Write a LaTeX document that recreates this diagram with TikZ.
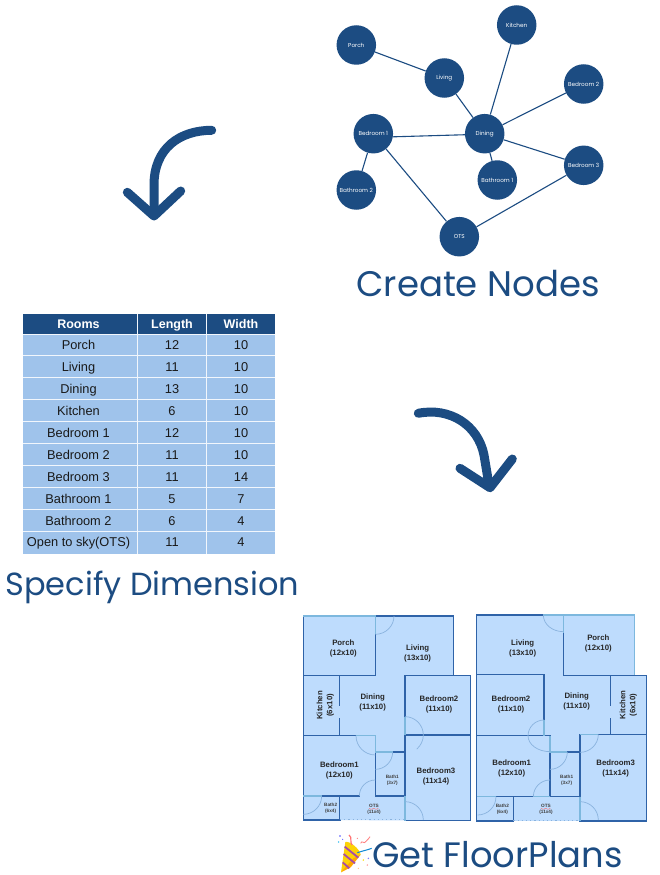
\documentclass[tikz,border=0pt]{standalone}
\usepackage{fontspec}
\setmainfont{Liberation Sans}
\newfontfamily\pop{Poppins}
\definecolor{navy}{HTML}{1C4C82}
\definecolor{rowblue}{HTML}{9FC3EB}
\definecolor{planfill}{HTML}{BEDCFD}
\definecolor{wall}{HTML}{2F63A8}
\definecolor{lwall}{HTML}{7DB8DE}
\definecolor{doorarc}{HTML}{8AB3DE}
\tikzset{
  gnode/.style={circle,fill=navy,draw=none,minimum size=39.5pt,inner sep=0pt,text=white,font=\pop\fontsize{5.7}{6}\selectfont},
  gedge/.style={draw=navy,line width=1.1pt},
  hdr/.style={font=\bfseries\fontsize{12.5}{14}\selectfont,text=white,inner sep=0pt,anchor=base},
  cell/.style={font=\fontsize{12.8}{14}\selectfont,text=black!90,inner sep=0pt,anchor=base},
  title/.style={font=\pop\fontsize{#1}{36}\selectfont,text=navy,inner sep=0pt,anchor=base},
  bigarrow/.style={draw=navy,line width=9pt,line cap=round,line join=round},
  wl/.style={draw=wall,line width=1.5pt,line cap=rect},
  lw/.style={draw=lwall,line width=1.5pt},
  door/.style={draw=doorarc,line width=.7pt},
  big/.style={font=\bfseries\fontsize{7.8}{10}\selectfont,align=center,text=black!85,inner sep=0pt},
  small/.style={font=\bfseries\fontsize{4.7}{6}\selectfont,align=center,text=black!75,inner sep=0pt},
  dots/.style={draw=doorarc,line width=1pt,dash pattern=on 1.2pt off 3pt}
}
\begin{document}
\begin{tikzpicture}[x=1pt,y=-1pt]
\useasboundingbox (0,0) rectangle (659,875);
\fill[white] (0,0) rectangle (659,875);

% graph
\node[gnode] (porch) at (356.3,45) {Porch};
\node[gnode] (kitchen) at (516.7,25) {Kitchen};
\node[gnode] (living) at (444.3,78) {Living};
\node[gnode] (bed2) at (583.7,84) {Bedroom 2};
\node[gnode] (bed1) at (373.3,133.7) {Bedroom 1};
\node[gnode] (dining) at (484.7,133.7) {Dining};
\node[gnode] (bed3) at (583.7,165.3) {Bedroom 3};
\node[gnode] (bath1) at (497.3,180) {Bathroom 1};
\node[gnode] (bath2) at (356.3,190) {Bathroom 2};
\node[gnode] (ots) at (459.3,236.7) {OTS};
\path[gedge] (porch)--(living) (living)--(dining) (kitchen)--(dining) (bed2)--(dining)
  (bed1.-9)--(dining.183) (dining)--(bed3) (dining)--(bath1) (bed1)--(bath2) (bed1)--(ots) (ots)--(bed3);
\node[title=35.5] (t1) at (478,296) {Create Nodes};

% arrows
\path[bigarrow] (211.7,130.3) .. controls (180,130.3) and (154,148) .. (154,185) -- (154,214);
\path[bigarrow] (127.3,192.3) -- (154,216) -- (180.7,191);
\path[bigarrow] (418.3,413.3) .. controls (450,407) and (478,425) .. (484,455) -- (489,485);
\path[bigarrow] (460,468.3) -- (490,487.7) -- (512.3,459);

% table
\fill[rowblue] (23,334) rectangle (275,553.5);
\fill[navy] (23,314) rectangle (275,333.5);
\foreach \yy in {334.3,355.7,377.7,399.3,421.3,443.3,465.3,487.3,509.3,531.3}
  \draw[white!85!rowblue,line width=.8pt] (23,\yy) -- (275,\yy);
\draw[white!85!rowblue,line width=.8pt] (137.5,314) -- (137.5,553.5) (206.5,314) -- (206.5,553.5);
\node[hdr] (h1) at (78.5,328) {Rooms};
\node[hdr] (h2) at (172,328) {Length};
\node[hdr] (h3) at (241,328) {Width};
\foreach \yy/\a/\b/\c in {349.5/Porch/12/10,371.5/Living/11/10,393.3/Dining/13/10,415/Kitchen/6/10,437/Bedroom 1/12/10,459/Bedroom 2/11/10,481/Bedroom 3/11/14,503/Bathroom 1/5/7,525/Bathroom 2/6/4,546.8/Open to sky(OTS)/11/4}{
  \node[cell] at (78.5,\yy) {\a};
  \node[cell] at (172,\yy) {\b};
  \node[cell] at (241,\yy) {\c};
}
\node[title=32] (t2) at (152.5,595) {Specify Dimension};

% plan one
\begin{scope}[shift={(295,605)},x=.3333pt,y=-.3333pt]
\fill[planfill] (25,33) -- (475,33) -- (475,212) -- (527,212) -- (527,647) -- (25,645) -- cycle;
\path[wl] (241,33) -- (475,33) -- (475,212);
\path[wl] (25,33) -- (25,645) -- (135,645);
\path[wl] (25,212) -- (241,212) -- (241,88);
\path[wl] (330,212) -- (527,212) -- (527,647) -- (330,647);
\path[wl] (330,212) -- (330,335);
\path[wl] (330,390) -- (527,390);
\path[wl] (330,390) -- (330,573) -- (241,573);
\path[wl] (133,212) -- (133,300) (133,340) -- (133,392);
\path[wl] (25,392) -- (183,392) (241,441) -- (241,573);
\path[wl] (293,441) -- (330,441);
\path[wl] (25,573) -- (193,573);
\path[wl] (133,573) -- (133,645);
\path[lw] (25,33) -- (241,33) -- (241,88);
\path[lw] (183,392) -- (241,392) -- (241,441) -- (293,441);
\path[lw] (330,335) -- (330,390);
\path[lw] (330,573) -- (330,647);
\path[lw] (25,573) -- (80,573);
\path[dots] (135,645) -- (325,645);
\draw[door] (297,33) arc[start angle=0,end angle=90,x radius=56,y radius=55];
\draw[door] (330,335) arc[start angle=-90,end angle=50,radius=55];
\draw[door] (183,392) arc[start angle=180,end angle=90,radius=58];
\draw[door] (293,441) arc[start angle=0,end angle=90,radius=52];
\draw[door] (193,573) arc[start angle=180,end angle=270,radius=48];
\draw[door] (80,573) arc[start angle=0,end angle=90,radius=55];
\draw[door] (330,590) arc[start angle=-90,end angle=0,radius=55];
\node[big] (a1) at (145,130) {Porch\\(12x10)};
\node[big] (a2) at (368,146) {Living\\(13x10)};
\node[big,rotate=90] (a3) at (91,301) {Kitchen\\(6x10)};
\node[big] (a4) at (233,291) {Dining\\(11x10)};
\node[big] (a5) at (432,299) {Bedroom2\\(11x10)};
\node[big] (a6) at (133,497) {Bedroom1\\(12x10)};
\node[big] (a7) at (423,514) {Bedroom3\\(11x14)};
\node[small] (a8) at (292,525) {Bath1\\(3x7)};
\node[small] (a9) at (107,611) {Bath2\\(6x4)};
\node[small] (a10) at (237,613) {OTS\\(11x4)};
\draw[red!60,line width=.35pt] (222,610) -- (229,613) -- (236,610) -- (243,613) -- (250,610);
\end{scope}

% plan two
\begin{scope}[shift={(470,605)},x=.3333pt,y=-.3333pt]
\fill[planfill] (20,30) -- (494,30) -- (494,210) -- (530,210) -- (530,648) -- (20,648) -- cycle;
\path[wl] (20,30) -- (220,30);
\path[wl] (20,30) -- (20,648) -- (130,648);
\path[wl] (20,209) -- (222,209) -- (222,345);
\path[wl] (280,85) -- (280,212) -- (530,212) -- (530,648) -- (330,648);
\path[wl] (422,212) -- (422,300) (422,340) -- (422,388);
\path[wl] (385,388) -- (530,388);
\path[wl] (20,392) -- (240,392);
\path[wl] (240,441) -- (240,575);
\path[wl] (292,441) -- (330,441);
\path[wl] (330,388) -- (330,575);
\path[wl] (20,575) -- (190,575);
\path[wl] (240,575) -- (330,575);
\path[wl] (130,575) -- (130,648);
\path[lw] (220,30) -- (494,30) -- (494,210);
\path[lw] (280,30) -- (280,85);
\path[lw] (222,345) -- (222,392);
\path[lw] (240,392) -- (240,441) -- (292,441);
\path[lw] (330,388) -- (385,388);
\path[lw] (330,575) -- (330,648);
\path[lw] (190,575) -- (240,575);
\path[lw] (20,575) -- (78,575);
\path[dots] (130,648) -- (325,648);
\draw[door] (220,30) arc[start angle=180,end angle=90,x radius=60,y radius=50];
\draw[door] (222,345) arc[start angle=-90,end angle=-180,radius=48];
\draw[door] (174,392) arc[start angle=180,end angle=90,x radius=66,y radius=48];
\draw[door] (385,388) arc[start angle=0,end angle=90,x radius=55,y radius=54];
\draw[door] (292,441) arc[start angle=0,end angle=90,radius=52];
\draw[door] (190,575) arc[start angle=180,end angle=270,radius=50];
\draw[door] (78,575) arc[start angle=0,end angle=90,radius=55];
\draw[door] (330,590) arc[start angle=-90,end angle=0,radius=55];
\node[big] (b1) at (158,129) {Living\\(13x10)};
\node[big] (b2) at (385,115) {Porch\\(12x10)};
\node[big] (b3) at (320,288) {Dining\\(11x10)};
\node[big] (b4) at (123,298) {Bedroom2\\(11x10)};
\node[big,rotate=90] (b5) at (475,300) {Kitchen\\(6x10)};
\node[big] (b6) at (125,490) {Bedroom1\\(12x10)};
\node[big] (b7) at (437,490) {Bedroom3\\(11x14)};
\node[small] (b8) at (290,527) {Bath1\\(3x7)};
\node[small] (b9) at (97,613) {Bath2\\(6x4)};
\node[small] (b10) at (228,613) {OTS\\(11x4)};
\draw[red!60,line width=.35pt] (213,610) -- (220,613) -- (227,610) -- (234,613) -- (241,610);
\end{scope}

% party popper, drawn
\begin{scope}[shift={(330,830)},x=.3333pt,y=-.3333pt]
\fill[yellow!70!orange] (33,127) -- (46,36) .. controls (60,32) and (90,58) .. (92,74) -- cycle;
\fill[orange!70!yellow] (33,127) -- (62,112) -- (92,74) -- (70,85) -- cycle;
\draw[violet!70,line width=1.8pt] (38,97) -- (58,115);
\draw[violet!70,line width=1.8pt] (41,72) -- (75,100);
\draw[violet!70,line width=1.8pt] (44,50) -- (85,83);
\draw[cyan!70!blue,line width=1pt] (82,68) .. controls (100,62) and (112,60) .. (125,55);
\draw[red!55,line width=1.2pt] (57,15) .. controls (68,22) and (58,35) .. (66,45);
\draw[red!50,line width=.8pt] (92,40) .. controls (96,28) and (102,45) .. (108,34) .. controls (112,26) and (118,28) .. (120,20);
\fill[blue!70] (30,18) circle[radius=2.5];
\fill[cyan] (26,36) circle[radius=2.2];
\fill[blue!60] (38,28) circle[radius=2];
\fill[red!50] (82,25) circle[radius=2];
\fill[yellow!80!orange] (100,90) circle[radius=2.5];
\fill[blue!50] (115,85) circle[radius=2.5];
\fill[red!40] (112,105) circle[radius=2.5];
\fill[orange!50] (85,115) circle[radius=2];
\end{scope}
\node[title=35.3] (t3) at (497.5,867) {Get FloorPlans};
\end{tikzpicture}
\end{document}
